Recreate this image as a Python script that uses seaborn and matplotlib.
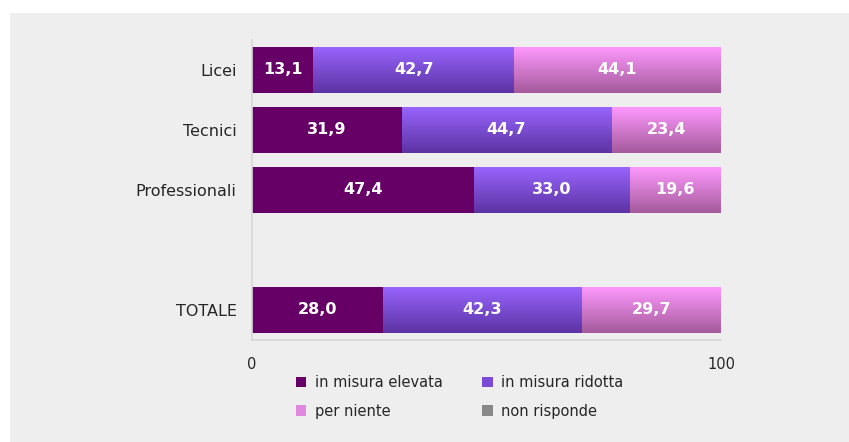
import numpy as np
import pandas as pd
import matplotlib
matplotlib.use("Agg")
from matplotlib import pyplot as plt
from matplotlib.colors import LinearSegmentedColormap
from matplotlib.patches import Patch
import seaborn as sns

# dati
categorie = ["Licei", "Tecnici", "Professionali", "TOTALE"]
elevata = [13.1, 31.9, 47.4, 28.0]
ridotta = [42.7, 44.7, 33.0, 42.3]
per_niente = [44.1, 23.4, 19.6, 29.7]
non_risponde = [0.0, 0.0, 0.0, 0.0]
serie = ["in misura elevata", "in misura ridotta", "per niente", "non risponde"]
ordine = ["Licei", "Tecnici", "Professionali", " ", "TOTALE"]

df = pd.DataFrame({"cat": categorie, "elevata": elevata, "ridotta": ridotta,
                   "per_niente": per_niente, "non_risponde": non_risponde})
df["c1"] = df["elevata"]
df["c2"] = df["c1"] + df["ridotta"]
df["c3"] = df["c2"] + df["per_niente"]

sns.set_style("white")
plt.rcParams["font.family"] = ["DejaVu Sans"]

bg = "#eeeeee"
fig = plt.figure(figsize=(8.49, 4.42), dpi=100)
fig.patch.set_facecolor("white")
fig.patches.append(plt.Rectangle((10 / 849, 0), 1, 1 - 13 / 442, transform=fig.transFigure,
                                 facecolor=bg, edgecolor="none", zorder=-10))
ax = fig.add_axes([252 / 849, 1 - 340 / 442, 469 / 849, 300 / 442])
ax.set_facecolor(bg)

# gradienti (alto -> basso)
grad = {
    "c3": ("#ff99ff", "#a55a9c"),
    "c2": ("#9966ff", "#5c33a3"),
}


def gradient_fill(ax, patches, top, bottom):
    cmap = LinearSegmentedColormap.from_list("g", [top, bottom])
    for p in patches:
        x0, y0 = p.get_x(), p.get_y()
        w, h = p.get_width(), p.get_height()
        if w <= 0:
            continue
        img = ax.imshow(np.linspace(0, 1, 64).reshape(-1, 1), cmap=cmap, aspect="auto",
                        extent=[x0, x0 + w, y0 + h, y0], origin="upper", zorder=p.get_zorder())
        img.set_clip_path(p)


for col, colore in [("c3", "#ff99ff"), ("c2", "#8855ee"), ("c1", "#660066")]:
    n0 = len(ax.patches)
    sns.barplot(data=df, x=col, y="cat", order=ordine, color=colore, width=0.78,
                saturation=1, orient="h", ax=ax, linewidth=0)
    nuovi = ax.patches[n0:]
    if col in grad:
        gradient_fill(ax, nuovi, *grad[col])

ax.set_xlim(0, 100)
ax.set_ylim(4.5, -0.5)
ax.set_xlabel("")
ax.set_ylabel("")
ax.set_xticks([0, 100])
ax.set_xticklabels(["0", "100"])
ax.tick_params(axis="x", length=4, color="#d0d0d0", labelsize=10.5, pad=8, direction="out")
ax.tick_params(axis="y", length=0, labelsize=11.5, pad=11)
for s in ["top", "right"]:
    ax.spines[s].set_visible(False)
for s in ["left", "bottom"]:
    ax.spines[s].set_color("#d6d6d6")
    ax.spines[s].set_linewidth(1.2)

# etichette
pos = {c: ordine.index(c) for c in categorie}
for _, r in df.iterrows():
    y = pos[r["cat"]]
    starts = [0, r["c1"], r["c2"]]
    for v, s in zip([r["elevata"], r["ridotta"], r["per_niente"]], starts):
        ax.text(s + v / 2, y, f"{v:.1f}".replace(".", ","), ha="center", va="center",
                color="white", fontsize=11.5, fontweight="bold", zorder=10)

colori_leg = ["#660066", "#7a4ad6", "#e088e0", "#888888"]
handles = [Patch(facecolor=c, edgecolor="none") for c in colori_leg]
# riordino per riempire per righe con ncol=2
idx = [0, 2, 1, 3]
fig.legend([handles[i] for i in idx], [serie[i] for i in idx], ncol=2, loc="center",
           bbox_to_anchor=(460 / 849, 1 - 397 / 442),
           frameon=False, fontsize=10.5, handlelength=0.7, handleheight=0.7,
           columnspacing=2.7, labelspacing=0.9, handletextpad=0.6)

fig.savefig("out.png", dpi=100, facecolor=fig.get_facecolor())
